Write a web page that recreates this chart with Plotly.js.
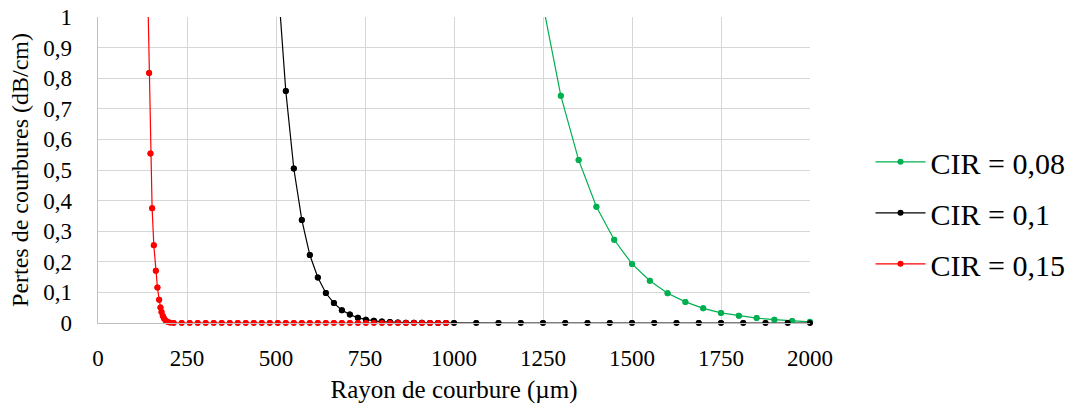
<!DOCTYPE html>
<html>
<head>
<meta charset="utf-8">
<script src="https://cdn.plot.ly/plotly-3.0.1.min.js"></script>
<style>html,body{margin:0;padding:0;background:#fff;}#chart{width:1083px;height:412px;}</style>
</head>
<body>
<div id="chart"></div>
<script>
// Rayon de courbure (µm) and pertes (dB/cm)
const seriesNames = ["CIR = 0,08", "CIR = 0,1", "CIR = 0,15"];

const greenX = [1250, 1300, 1350, 1400, 1450, 1500, 1550, 1600, 1650, 1700, 1750, 1800, 1850, 1900, 1950, 2000];
const greenY = [1.04, 0.743, 0.533, 0.380, 0.272, 0.193, 0.138, 0.097, 0.069, 0.048, 0.033, 0.024, 0.016, 0.011, 0.0065, 0.004];

const blackX = [505, 527.5, 550, 572.5, 595, 617.5, 640, 662.5, 685, 707.5, 730, 752.5, 775, 797.5, 820, 842.5, 865, 887.5, 910, 932.5, 955, 977.5, 1000,
  1062.5, 1125, 1187.5, 1250, 1312.5, 1375, 1437.5, 1500, 1562.5, 1625, 1687.5, 1750, 1812.5, 1875, 1937.5, 2000];
const blackY = [1.12, 0.758, 0.505, 0.337, 0.222, 0.149, 0.098, 0.065, 0.042, 0.028, 0.017, 0.011, 0.007, 0.0045, 0.003, 0.002, 0.0012, 0.0008, 0.0005, 0.0003, 0.0002, 0.0001, 0.0001,
  0, 0, 0, 0, 0, 0, 0, 0, 0, 0, 0, 0, 0, 0, 0, 0];

const redX = [139.5, 143.6, 147.4, 152, 156.8, 162.4, 167, 171.8, 175.5, 178.4, 182, 186, 190.5, 196, 202.8, 212.5,
  235, 257.5, 280, 302.5, 325, 347.5, 370, 392.5, 415, 437.5, 460, 482.5, 505, 527.5, 550, 572.5, 595, 617.5,
  640, 662.5, 685, 707.5, 730, 752.5, 775, 797.5, 820, 842.5, 865, 887.5, 910, 932.5, 955, 977.5];
const redY = [1.1, 0.817, 0.554, 0.375, 0.254, 0.171, 0.116, 0.076, 0.051, 0.036, 0.023, 0.014, 0.0075, 0.003, 0.001, 0,
  0, 0, 0, 0, 0, 0, 0, 0, 0, 0, 0, 0, 0, 0, 0, 0, 0, 0,
  0, 0, 0, 0, 0, 0, 0, 0, 0, 0, 0, 0, 0, 0, 0, 0];

const xTicks = [0, 250, 500, 750, 1000, 1250, 1500, 1750, 2000];
const yTicks = [0, 0.1, 0.2, 0.3, 0.4, 0.5, 0.6, 0.7, 0.8, 0.9, 1];

const colors = ["#00b050", "#000000", "#ff0000"];
const groups = ["g", "k", "r"];
const xs = [greenX, blackX, redX];
const ys = [greenY, blackY, redY];

const traces = [];
for (let i = 0; i < 3; i++) {
  traces.push({
    x: xs[i], y: ys[i], name: seriesNames[i], type: "scatter", mode: "lines+markers",
    legendgroup: groups[i],
    line: {color: colors[i], width: 1.2},
    marker: {color: colors[i], size: 6},
    cliponaxis: true
  });
}
for (let i = 0; i < 3; i++) {
  traces.push({
    x: xs[i], y: ys[i], name: seriesNames[i], type: "scatter", mode: "markers",
    legendgroup: groups[i],
    marker: {color: colors[i], size: 6},
    cliponaxis: false, showlegend: false, hoverinfo: "skip"
  });
}

const FAM = "Times New Roman, serif";
function f(size) { return {family: FAM, size: size, color: "#000"}; }

const layout = {
  width: 1083, height: 412,
  margin: {l: 98, r: 273, t: 17, b: 89},
  paper_bgcolor: "#fff", plot_bgcolor: "#fff",
  separators: ", ",
  font: f(23),
  showlegend: true,
  legend: {
    x: 1.085, y: 0.36, xanchor: "left", yanchor: "middle",
    font: f(30),
    itemwidth: 50, tracegroupgap: 9, bgcolor: "rgba(0,0,0,0)"
  },
  xaxis: {
    range: [0, 2000], tickvals: xTicks, ticktext: xTicks.map(String),
    showgrid: true, gridcolor: "#d6d6d6", gridwidth: 1,
    showline: true, linecolor: "#bfbfbf", linewidth: 1.3,
    zeroline: false, ticks: "", ticklabelstandoff: 14,
    tickfont: f(23),
    title: {text: "Rayon de courbure (µm)", font: f(25), standoff: 10}
  },
  yaxis: {
    range: [0, 1], tickvals: yTicks,
    showgrid: true, gridcolor: "#d6d6d6", gridwidth: 1,
    showline: true, linecolor: "#bfbfbf", linewidth: 1.3,
    zeroline: false, ticks: "", ticklabelstandoff: 20,
    tickfont: f(23),
    title: {text: "Pertes de courbures (dB/cm)", font: f(24), standoff: 8}
  }
};

Plotly.newPlot("chart", traces, layout, {displayModeBar: false, staticPlot: true});
</script>
</body>
</html>
